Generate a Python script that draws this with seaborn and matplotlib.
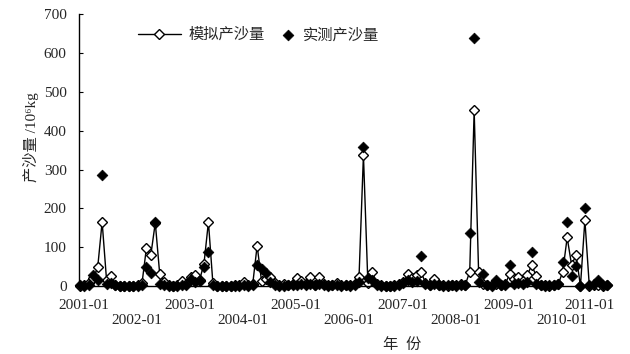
import numpy as np
import pandas as pd
import seaborn as sns
import matplotlib.pyplot as plt

# ---- data (monthly, 2001-01 .. 2010-12) ----
months = pd.date_range("2001-01", periods=120, freq="MS").strftime("%Y-%m").tolist()

sim = [1, 2, 7, 20, 48, 165, 15, 26, 3, 1, 0, 1,
       0, 2, 7, 98, 80, 163, 31, 11, 2, 1, 3, 14,
       5, 22, 28, 15, 58, 165, 8, 1, 0, 1, 0, 2,
       2, 10, 3, 5, 104, 12, 18, 24, 8, 2, 6, 3,
       5, 20, 14, 6, 24, 3, 24, 6, 2, 3, 8, 2,
       3, 2, 5, 22, 337, 8, 37, 5, 2, 0, 1, 2,
       5, 10, 30, 20, 28, 37, 8, 3, 17, 3, 2, 1,
       3, 2, 4, 3, 37, 452, 37, 5, 3, 2, 6, 2,
       5, 30, 17, 24, 12, 28, 54, 26, 3, 2, 1, 3,
       5, 37, 125, 54, 80, 0, 170, 0, 2, 3, 1, 2]

obs = [2, 1, 3, 28, 15, 287, 5, 8, 2, 0, 1, 0,
       1, 0, 3, 50, 33, 165, 5, 3, 1, 0, 1, 2,
       3, 19, 10, 12, 48, 88, 3, 0, 1, 0, 0, 1,
       1, 3, 1, 2, 54, 45, 33, 10, 2, 0, 1, 2,
       2, 3, 5, 3, 6, 2, 4, 3, 1, 2, 3, 1,
       2, 1, 3, 10, 358, 20, 15, 3, 1, 0, 1, 1,
       3, 8, 15, 10, 12, 78, 5, 2, 5, 2, 1, 2,
       2, 1, 2, 3, 137, 638, 10, 30, 2, 1, 15, 3,
       3, 55, 5, 8, 4, 10, 88, 5, 2, 1, 2, 2,
       5, 61, 164, 26, 52, 0, 202, 3, 5, 15, 3, 2]

tick_labels = [f"{y}-01" for y in range(2001, 2012)]
y_ticks = [0, 100, 200, 300, 400, 500, 600, 700]

sim_name = "模拟产沙量"
obs_name = "实测产沙量"

# ---- style ----
sns.set_style("ticks")
plt.rcParams["font.family"] = ["Liberation Serif", "Noto Sans CJK SC", "DejaVu Sans"]
plt.rcParams["font.size"] = 11

df = pd.DataFrame({"idx": np.arange(len(months)), "month": months,
                   "sim": sim, "obs": obs})

fig = plt.figure(figsize=(6.3, 3.54), dpi=100)
ax = fig.add_axes([79.1 / 630, 0.192, 539 / 630, 0.768])

sns.lineplot(data=df, x="idx", y="sim", ax=ax, color="black", lw=1.0,
             marker="D", markersize=4.6, markerfacecolor="white",
             markeredgecolor="black", markeredgewidth=1.0,
             label=sim_name, clip_on=False, zorder=2)
sns.scatterplot(data=df, x="idx", y="obs", ax=ax, marker="D", s=30,
                color="black", edgecolor="black", linewidth=0.5,
                label=obs_name, clip_on=False, zorder=3)

ax.set_xlim(-0.2, 121.5)
ax.set_ylim(0, 700)
ax.spines["bottom"].set_bounds(-0.2, 119.6)
ax.spines["top"].set_visible(False)
ax.spines["right"].set_visible(False)
for s in ["left", "bottom"]:
    ax.spines[s].set_color("black")
    ax.spines[s].set_linewidth(1.0)

# x ticks: alternate rows
pos = [12 * k + 0.8 for k in range(len(tick_labels))]
ax.set_xticks(pos[0::2], tick_labels[0::2])
ax.set_xticks(pos[1::2], tick_labels[1::2], minor=True)
ax.tick_params(axis="x", which="major", length=0, pad=9, labelsize=11)
ax.tick_params(axis="x", which="minor", length=0, pad=20, labelsize=11)
last = ax.get_xticklabels()[-1]
last.set_horizontalalignment("right")

ax.set_yticks(y_ticks)
ax.tick_params(axis="y", direction="in", length=3, pad=9, labelsize=11, color="black")

ax.set_xlabel("年  份", fontsize=11)
ax.xaxis.set_label_coords((402 - 79.1) / 539, -0.19)
ax.set_ylabel("产沙量 /10\u2076kg", fontsize=11)
ax.yaxis.set_label_coords(-0.075, 0.548)

handles, labels = ax.get_legend_handles_labels()
leg1 = ax.legend([handles[0]], [labels[0]], loc="center left",
                 bbox_to_anchor=(138 / 630, 1 - 35 / 354),
                 bbox_transform=fig.transFigure, frameon=False,
                 handlelength=2.8, handletextpad=0.5, borderpad=0,
                 borderaxespad=0, fontsize=11)
ax.add_artist(leg1)
ax.legend([handles[1]], [labels[1]], loc="center left",
          bbox_to_anchor=(280 / 630, 1 - 35 / 354),
          bbox_transform=fig.transFigure, frameon=False,
          handlelength=1.0, handletextpad=0.5, borderpad=0,
          borderaxespad=0, fontsize=11)

fig.savefig("out.png", dpi=100)
